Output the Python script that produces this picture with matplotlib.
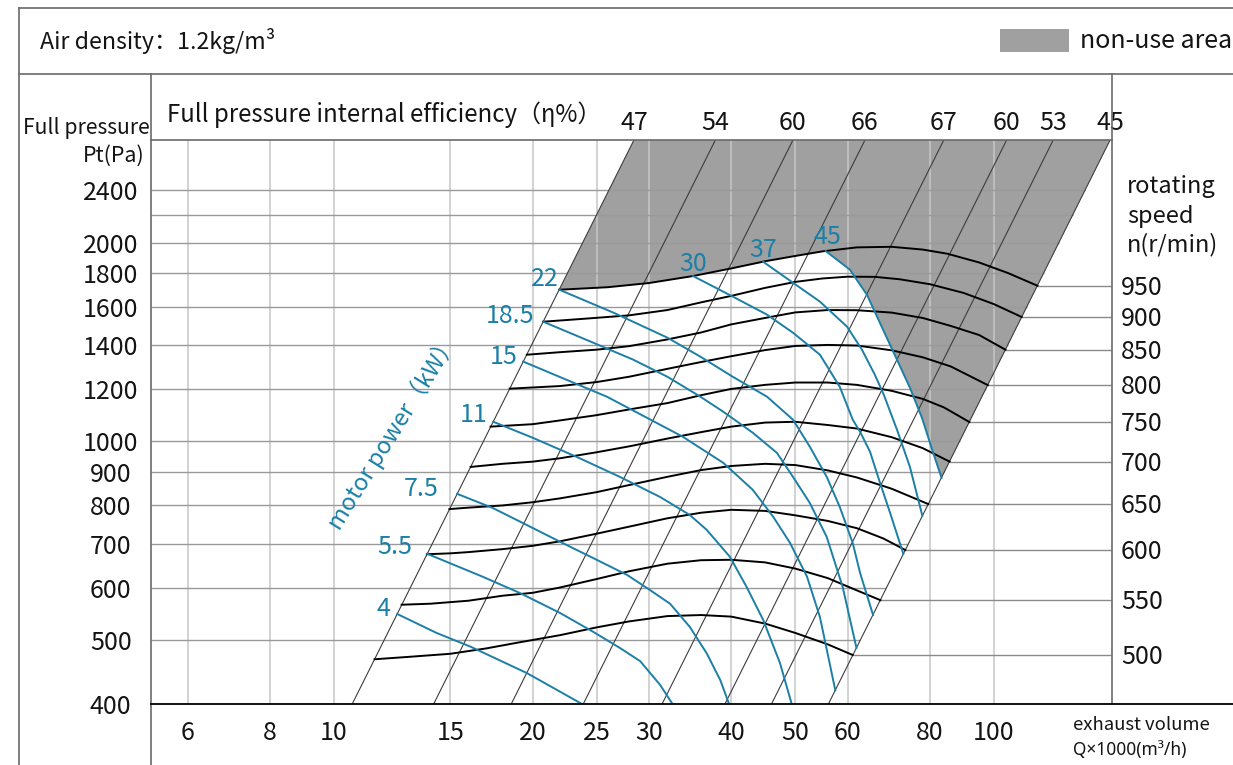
import numpy as np
import matplotlib
matplotlib.use("Agg")
import matplotlib.pyplot as plt
from matplotlib.lines import Line2D
from matplotlib.patches import Rectangle, Polygon
from matplotlib.ticker import NullLocator

plt.rcParams["font.family"] = ["Noto Sans CJK SC", "DejaVu Sans"]

# ---- data: Q in 1000 m3/h, Pt in Pa ----
q_ticks = [6, 8, 10, 15, 20, 25, 30, 40, 50, 60, 80, 100]
p_ticks = [400, 500, 600, 700, 800, 900, 1000, 1200, 1400, 1600, 1800, 2000, 2400]
p_grid = [500, 600, 700, 800, 900, 1000, 1200, 1400, 1600, 1800, 2000, 2200, 2400]

# efficiency lines (Pt ~ Q^2), given by their flow at 400 Pa
eff_labels = ["47", "54", "60", "66", "67", "60", "53", "45"]
eff_q400 = [10.65, 14.15, 18.55, 23.85, 31.4, 39.1, 46.0, 56.1]

# rotating speed curves (r/min)
speed_labels = ["950", "900", "850", "800", "750", "700", "650", "600", "550", "500"]
n950_q = [21.95, 26, 30, 35, 40, 45, 50, 55, 62, 70, 78, 85, 95, 105, 116.4]
n950_p = [1697, 1712, 1737, 1780, 1828, 1874, 1909, 1940, 1967, 1971, 1952, 1924, 1866, 1799, 1721]
n900_q = [20.75, 24, 28, 32, 36, 40, 45, 50, 55, 60, 66, 72, 80, 90, 100, 110.2]
n900_p = [1518, 1534, 1552, 1581, 1624, 1661, 1708, 1744, 1765, 1776, 1775, 1760, 1730, 1678, 1614, 1543]
n850_q = [19.6, 22, 25, 28, 32, 36, 40, 45, 50, 56, 62, 70, 78, 86, 95, 104.1]
n850_p = [1353, 1365, 1377, 1394, 1427, 1462, 1504, 1538, 1568, 1581, 1580, 1567, 1538, 1496, 1449, 1377]
n800_q = [18.46, 22, 25, 28, 32, 36, 40, 45, 50, 56, 62, 70, 78, 86, 97.9]
n800_p = [1202, 1213, 1230, 1253, 1288, 1319, 1346, 1375, 1395, 1400, 1397, 1374, 1341, 1299, 1217]
n750_q = [17.27, 20, 22, 25, 28, 32, 36, 40, 45, 50, 56, 62, 70, 78, 84, 91.8]
n750_p = [1053, 1062, 1076, 1096, 1118, 1143, 1175, 1201, 1218, 1228, 1228, 1218, 1193, 1160, 1126, 1070]
n700_q = [16.11, 18, 20, 22, 25, 28, 32, 36, 40, 45, 50, 56, 62, 70, 78, 85.7]
n700_p = [915, 925, 932, 943, 963, 983, 1010, 1033, 1053, 1068, 1071, 1059, 1046, 1015, 977, 932]
n650_q = [14.96, 16, 18, 20, 22, 25, 28, 32, 36, 40, 45, 50, 56, 62, 70, 79.5]
n650_p = [790, 794, 800, 809, 820, 838, 859, 884, 905, 918, 925, 921, 904, 882, 848, 804]
n600_q = [13.83, 15, 16, 18, 20, 22, 25, 28, 32, 36, 40, 45, 50, 56, 62, 68, 73.4]
n600_p = [675, 677, 680, 687, 695, 706, 725, 743, 765, 780, 788, 785, 773, 758, 739, 713, 685]
n550_q = [12.66, 14, 16, 18, 20, 22, 25, 28, 32, 36, 40, 45, 50, 56, 62, 67.3]
n550_p = [566, 568, 574, 584, 590, 601, 619, 636, 653, 661, 662, 656, 642, 621, 595, 575]
n500_q = [11.52, 13, 15, 17, 19, 22, 25, 28, 32, 36, 40, 45, 50, 56, 61.1]
n500_p = [468, 472, 477, 486, 496, 509, 523, 534, 544, 546, 543, 530, 513, 493, 475]

# motor power curves (kW)
kw_labels = ["4", "5.5", "7.5", "11", "15", "18.5", "22", "30", "37", "45"]
kw4_q = [12.47, 14.3, 16.1, 19.6, 23.8]
kw4_p = [548, 513, 489, 446, 400]
kw5_5_q = [13.84, 16.8, 19.1, 22.0, 24.7, 27.1, 29.1, 31.2, 32.6]
kw5_5_p = [676, 624, 590, 550, 515, 487, 465, 428, 400]
kw7_5_q = [15.37, 17.4, 19.3, 22.0, 24.7, 27.8, 30.1, 32.3, 34.6, 36.7, 38.5, 39.7]
kw7_5_p = [833, 793, 753, 705, 666, 628, 596, 568, 524, 478, 435, 400]
kw11_q = [17.43, 20.0, 23.3, 27.1, 31.2, 34.6, 36.7, 39.8, 42.2, 44.7, 47.4, 49.4]
kw11_p = [1071, 1013, 948, 884, 824, 774, 735, 669, 602, 537, 462, 400]
kw15_q = [19.35, 22.5, 25.9, 29.8, 33.8, 38.9, 43.1, 46.3, 49.1, 52.1, 54.5, 57.5]
kw15_p = [1321, 1240, 1169, 1086, 1016, 928, 845, 769, 702, 624, 542, 420]
kw18_5_q = [20.75, 24.7, 28.4, 32.0, 35.9, 38.9, 43.1, 46.9, 49.6, 52.6, 55.8, 59.0, 61.9]
kw18_5_p = [1518, 1411, 1330, 1253, 1169, 1109, 1031, 961, 884, 807, 717, 602, 487]
kw22_q = [21.95, 26.5, 32.0, 35.9, 40.2, 45.3, 49.6, 52.6, 55.8, 58.4, 61.1, 62.7, 65.6]
kw22_p = [1697, 1567, 1436, 1344, 1253, 1169, 1079, 982, 884, 796, 702, 632, 546]
kw30_q = [35.0, 40.2, 45.3, 49.6, 54.5, 58.4, 61.1, 62.7, 64.9, 67.2, 69.6, 72.9]
kw30_p = [1780, 1657, 1556, 1461, 1353, 1210, 1079, 1034, 965, 866, 780, 676]
kw37_q = [44.7, 49.6, 54.5, 59.9, 63.1, 66.0, 68.1, 71.3, 74.6, 77.9]
kw37_p = [1871, 1739, 1628, 1492, 1377, 1262, 1177, 1042, 915, 772]
kw45_q = [55.6, 60.5, 64.2, 67.7, 71.3, 74.6, 77.8, 80.8, 83.3]
kw45_p = [1942, 1820, 1668, 1487, 1330, 1206, 1086, 965, 881]

speed_q = [n950_q, n900_q, n850_q, n800_q, n750_q, n700_q, n650_q, n600_q, n550_q, n500_q]
speed_p = [n950_p, n900_p, n850_p, n800_p, n750_p, n700_p, n650_p, n600_p, n550_p, n500_p]
kw_q = [kw4_q, kw5_5_q, kw7_5_q, kw11_q, kw15_q, kw18_5_q, kw22_q, kw30_q, kw37_q, kw45_q]
kw_p = [kw4_p, kw5_5_p, kw7_5_p, kw11_p, kw15_p, kw18_5_p, kw22_p, kw30_p, kw37_p, kw45_p]

# ---- style ----
W, H = 1233, 765
BLUE = "#1b7fa6"
FILL = "#a0a0a0"
FRAME = "#6a6a6a"
TXT = "#141414"
# label nudges (pixels) for the power labels
KW_DX = [-7, -15, -19, -6, -6, -9, -1, 0, 0, 2]
KW_DY = [5, 7, 5, 7, 5, 6, 11, 12, 12, 14]

fig = plt.figure(figsize=(W / 100, H / 100), dpi=100)


def fx(x):
    return x / W


def fy(y):
    return 1 - y / H


def frame_line(x0, y0, x1, y1, color=FRAME, lw=1.2):
    fig.add_artist(Line2D([fx(x0), fx(x1)], [fy(y0), fy(y1)],
                          transform=fig.transFigure, color=color, lw=lw))


ax = fig.add_axes([fx(151), fy(704.3), 961 / W, 564.3 / H])
ax.set_xscale("log")
ax.set_yscale("log")
ax.set_xlim(5.28, 151.0)
ax.set_ylim(400, 2860)
for s in ax.spines.values():
    s.set_visible(False)
ax.patch.set_alpha(0)
p_top = ax.get_ylim()[1]

c_left = 400 / eff_q400[0] ** 2
c_right = 400 / eff_q400[-1] ** 2

# non-use area
edge_q = [q for q in n950_q if q < kw45_q[0]]
edge_p = n950_p[:len(edge_q)]
verts = [(np.sqrt(p_top / c_left), p_top), (np.sqrt(p_top / c_right), p_top)]
verts += list(zip(kw45_q[::-1], kw45_p[::-1]))
verts += list(zip(edge_q[::-1], edge_p[::-1]))
ax.add_patch(Polygon(verts, closed=True, facecolor=FILL, edgecolor="none", zorder=1))

# grid
ax.vlines(q_ticks, 400, p_top, color="#c6c6c6", lw=1.1, zorder=2)
for p in p_grid:
    ax.hlines(p, ax.get_xlim()[0], np.sqrt(p / c_right), color="#9a9a9a", lw=1.0, zorder=2)

# efficiency lines
for lbl, q0 in zip(eff_labels, eff_q400):
    c = 400 / q0 ** 2
    q1 = np.sqrt(p_top / c)
    ax.plot([q0, q1], [400, p_top], color="#3c3c3c", lw=0.8, zorder=3)
    ax.text(q1, 1.030, lbl, transform=ax.get_xaxis_transform(), ha="center",
            va="center", fontsize=18, color=TXT, clip_on=False)

# speed curves
for lbl, q, p in zip(speed_labels, speed_q, speed_p):
    ax.plot(q, p, color="black", lw=1.4, zorder=4)
    ax.hlines(p[-1], q[-1], ax.get_xlim()[1], color="#8a8a8a", lw=1.0, zorder=2)
    ax.annotate(lbl, (1.0094, p[-1]), xycoords=ax.get_yaxis_transform(),
                xytext=(0, -2), textcoords="offset pixels", ha="left",
                va="center", fontsize=18, color=TXT, annotation_clip=False)

# motor power curves
for i, (lbl, q, p) in enumerate(zip(kw_labels, kw_q, kw_p)):
    ax.plot(q, p, color=BLUE, lw=1.4, zorder=5)
    ha = "right" if float(lbl) <= 22 else "center"
    ax.annotate(lbl, (q[0], p[0]), xytext=(KW_DX[i], KW_DY[i]), textcoords="offset pixels",
                ha=ha, va="center", fontsize=18, color=BLUE)

# ticks
ax.set_xticks(q_ticks)
ax.set_xticklabels([str(q) for q in q_ticks])
ax.set_yticks(p_ticks)
ax.set_yticklabels([str(p) for p in p_ticks])
ax.xaxis.set_minor_locator(NullLocator())
ax.yaxis.set_minor_locator(NullLocator())
ax.tick_params(axis="both", length=0, labelsize=18, labelcolor=TXT)
ax.tick_params(axis="x", pad=11)
ax.tick_params(axis="y", pad=29)
for t in ax.get_yticklabels():
    t.set_ha("center")

# frame
frame_line(19, 8, W, 8)
frame_line(19, 8, 19, H)
frame_line(19, 74, W, 74)
frame_line(151, 74, 151, H)
frame_line(151, 140, 1112, 140)
frame_line(1112, 74, 1112, 704.3)
frame_line(151, 704.3, W, 704.3, color="black", lw=1.3)

# texts
LATIN = ["Noto Sans", "Noto Sans CJK SC", "DejaVu Sans"]
fig.text(fx(40), fy(41), "Air density：1.2kg/m³", fontsize=16.7, va="center", color=TXT)
fig.add_artist(Rectangle((fx(1000), fy(52)), 69 / W, 23 / H, transform=fig.transFigure,
                         facecolor=FILL, edgecolor="none"))
fig.text(fx(1080), fy(41), "non-use area", fontsize=18, va="center", color=TXT)
fig.text(fx(167), fy(115), "Full pressure internal efficiency（η%）", fontsize=17.3,
         va="center", color=TXT)
fig.text(fx(150), fy(128), "Full pressure", fontsize=15.2, ha="right", va="center", color=TXT)
fig.text(fx(145), fy(156), "Pt(Pa)", fontsize=15.5, ha="right", va="center", color=TXT)
fig.text(fx(1127), fy(187), "rotating", fontsize=17, va="center", color=TXT)
fig.text(fx(1127), fy(217), "speed", fontsize=17, va="center", color=TXT)
fig.text(fx(1127), fy(245), "n(r/min)", fontsize=17, va="center", color=TXT)
fig.text(fx(1073), fy(725), "exhaust volume", fontsize=13.3, va="center", color=TXT)
fig.text(fx(1073), fy(750), "Q×1000(m³/h)", fontsize=12.5, va="center", color=TXT,
         family=LATIN)
fig.text(fx(393), fy(432), "motor power（kW）", fontsize=17, color=BLUE, rotation=58,
         ha="center", va="center", rotation_mode="anchor")

fig.savefig("out.png", dpi=100)
